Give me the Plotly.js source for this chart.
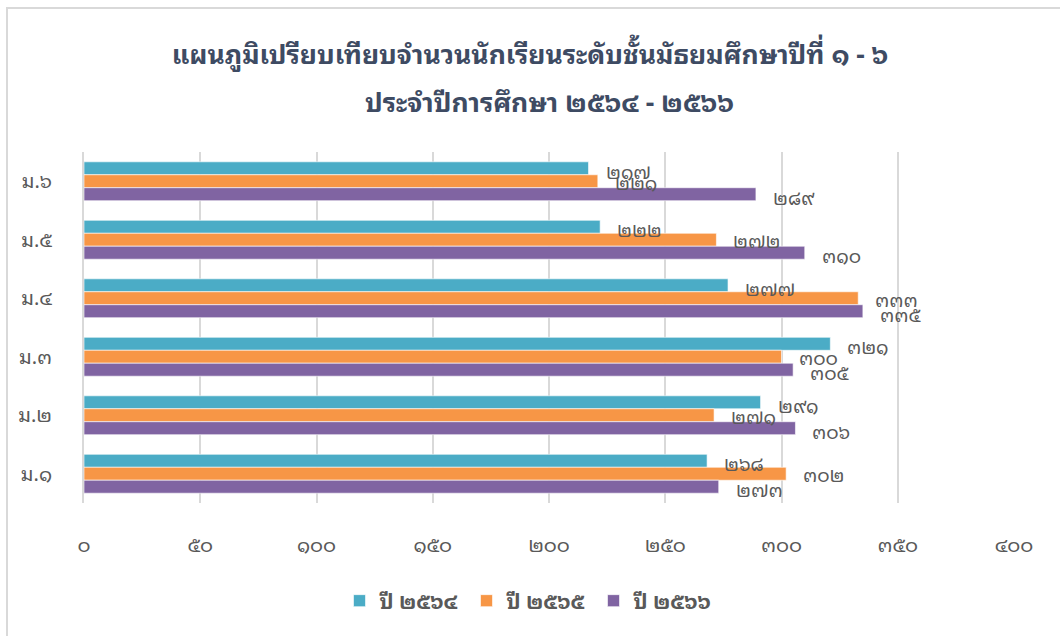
<!DOCTYPE html>
<html><head><meta charset="utf-8">
<script src="https://cdn.plot.ly/plotly-3.0.1.min.js"></script>
<style>
html,body{margin:0;padding:0;background:#fff;}
#frame{position:absolute;left:6px;top:7px;width:1060px;height:640px;border-top:2px solid #d9d9d9;border-left:2px solid #d9d9d9;}
#chart{position:absolute;left:0;top:0;width:1060px;height:636px;}
</style></head>
<body>
<div id="frame"></div>
<div id="chart"></div>
<script>
const categories = ['ม.๖','ม.๕','ม.๔','ม.๓','ม.๒','ม.๑'];
const seriesNames = ['ปี ๒๕๖๔','ปี ๒๕๖๕','ปี ๒๕๖๖'];
const y2564 = [217, 222, 277, 321, 291, 268];
const y2565 = [221, 272, 333, 300, 271, 302];
const y2566 = [289, 310, 335, 305, 306, 273];
const tickValues = [0,50,100,150,200,250,300,350,400];
const tickLabels = ['๐','๕๐','๑๐๐','๑๕๐','๒๐๐','๒๕๐','๓๐๐','๓๕๐','๔๐๐'];
const titleLine1 = 'แผนภูมิเปรียบเทียบจำนวนนักเรียนระดับชั้นมัธยมศึกษาปีที่ ๑ - ๖';
const titleLine2 = 'ประจำปีการศึกษา ๒๕๖๔ - ๒๕๖๖';

const thaiDigits = ['๐','๑','๒','๓','๔','๕','๖','๗','๘','๙'];
const toThai = n => String(n).split('').map(d => thaiDigits[+d] ?? d).join('');

const colors = ['#4bacc6','#f79646','#8064a2'];
const allSeries = [y2564, y2565, y2566];
const font = 'Leelawadee UI, Tahoma, Noto Sans Thai Looped, Noto Sans Thai, Loma, Garuda, Noto Sans, sans-serif';

const traces = allSeries.map((vals, i) => ({
  type: 'bar', orientation: 'h', name: '<b>' + seriesNames[i] + '</b>',
  x: vals, y: categories,
  marker: {color: colors[i], line: {color: 'rgba(255,255,255,0.6)', width: 1}},
  hoverinfo: 'x+name'
}));

const yShifts = [11, 0, -15];
const annotations = [];
allSeries.forEach((vals, i) => {
  vals.forEach((v, j) => {
    annotations.push({
      x: v, y: categories[j], xref: 'x', yref: 'y',
      text: toThai(v), showarrow: false, xanchor: 'left', yanchor: 'middle',
      xshift: 15, yshift: yShifts[i],
      font: {family: font, size: 19, color: '#595959'}
    });
  });
});
annotations.push({
  xref: 'paper', yref: 'paper', x: 0.5, y: 1 + (152 - 100) / 351, xanchor: 'center', yanchor: 'middle',
  text: '<b>' + titleLine2 + '</b>', showarrow: false,
  font: {family: font, size: 26.5, color: '#3e4b63'}
});

const layout = {
  width: 1060, height: 636,
  paper_bgcolor: 'rgba(0,0,0,0)', plot_bgcolor: 'rgba(0,0,0,0)',
  margin: {l: 84, r: 46, t: 152, b: 133},
  title: {
    text: '<b>' + titleLine1 + '</b>', automargin: false,
    x: 0.5, xanchor: 'center', y: 1 - 55 / 636, yanchor: 'middle',
    font: {family: font, size: 26.5, color: '#3e4b63'}
  },
  barmode: 'group', bargap: 0.335, bargroupgap: 0,
  xaxis: {
    range: [0, 400], tickvals: tickValues, ticktext: tickLabels, automargin: false,
    showgrid: true, gridcolor: '#d9d9d9', gridwidth: 2, zeroline: false,
    showline: false, ticks: '', ticklabelstandoff: 28,
    tickfont: {family: font, size: 20, color: '#595959'}
  },
  yaxis: {
    type: 'category', range: [categories.length - 0.5, -0.5], automargin: false,
    showline: true, linecolor: '#d9d9d9', linewidth: 2,
    showgrid: false, ticks: '', ticklabelstandoff: 26,
    tickfont: {family: font, size: 20, color: '#595959'}
  },
  showlegend: true,
  legend: {
    orientation: 'h', xref: 'container', yref: 'container',
    x: 0.5, xanchor: 'center', y: 1 - 601 / 636, yanchor: 'middle',
    font: {family: font, size: 21, color: '#595959'}, itemwidth: 30, entrywidth: 82
  },
  annotations: annotations
};
Plotly.newPlot('chart', traces, layout, {displayModeBar: false, staticPlot: true});
</script>
</body></html>
